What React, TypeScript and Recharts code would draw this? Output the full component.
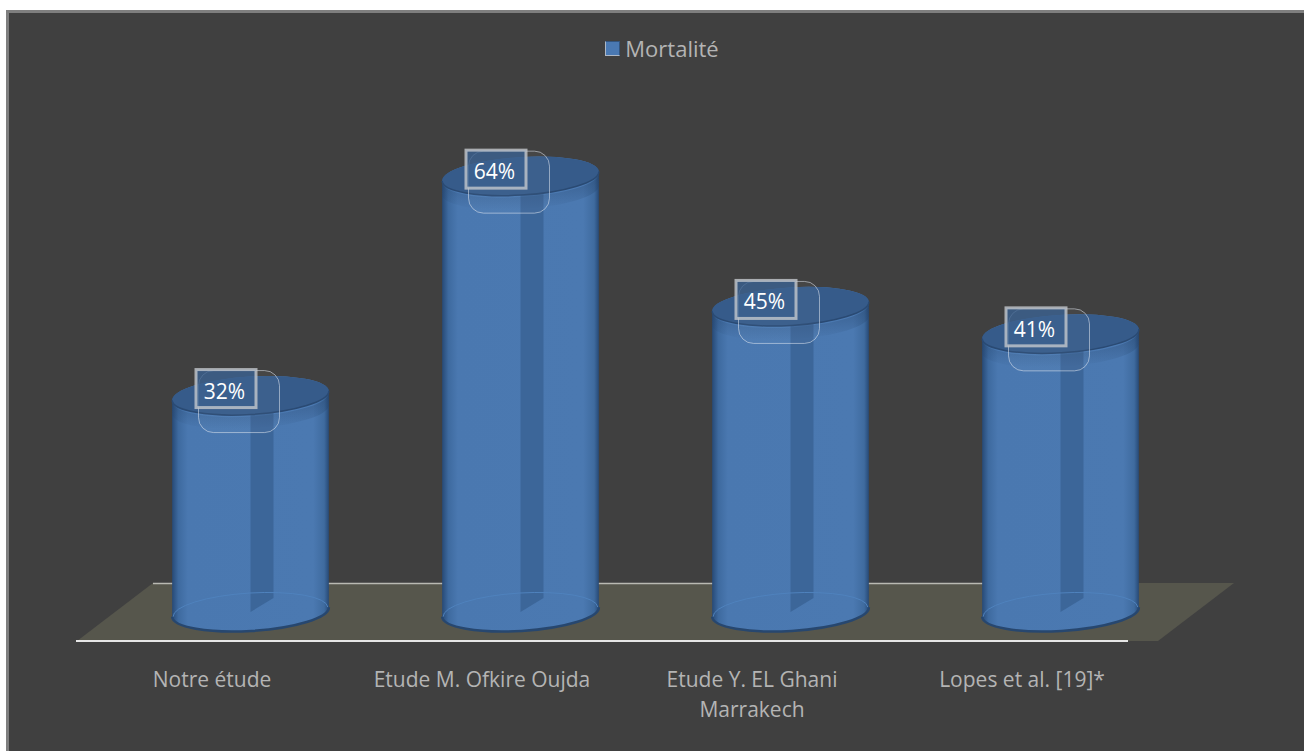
import { BarChart, Bar, XAxis, YAxis, Legend, LabelList, Customized } from "recharts";

const studies = ["Notre étude", "Etude M. Ofkire Oujda", "Etude Y. EL Ghani Marrakech", "Lopes et al. [19]*"];
const tickLines = [["Notre étude"], ["Etude M. Ofkire Oujda"], ["Etude Y. EL Ghani", "Marrakech"], ["Lopes et al. [19]*"]];
const mortality = [32, 64, 45, 41];

const chartData = studies.map((study, i) => ({ study, mortality: mortality[i] }));

const FONT = "'Open Sans', sans-serif";
const TILT = 3.5;
const RY = 19;

// tilted ellipse end points, the cylinder caps lean a little to the right
function capEnds(cx: number, cy: number, rx: number) {
  const t = (TILT * Math.PI) / 180;
  return {
    lx: cx - rx * Math.cos(t),
    ly: cy + rx * Math.sin(t),
    rx: cx + rx * Math.cos(t),
    ry: cy - rx * Math.sin(t),
  };
}

function Cylinder(props: any) {
  const { x, y, width, height } = props;
  const cx = x + width / 2;
  const rx = width / 2;
  const baseY = y + height - 3;
  const top = capEnds(cx, y, rx);
  const base = capEnds(cx, baseY, rx);
  const arc = `${rx} ${RY} ${-TILT} 0 0`;
  const body = `M${top.lx} ${top.ly} L${base.lx} ${base.ly} A${arc} ${base.rx} ${base.ry} L${top.rx} ${top.ry} A${arc} ${top.lx} ${top.ly} Z`;
  const stripeLeft = cx;
  const stripeRight = cx + 23;
  return (
    <g>
      <path d={body} fill="url(#cylBody)" />
      <path
        d={`M${stripeLeft} ${y} L${stripeRight} ${y} L${stripeRight} ${baseY - 14} L${stripeLeft} ${baseY} Z`}
        fill="#3c6699"
      />
      {/* far rim of the base, seen through the column */}
      <path
        d={`M${base.rx - 1} ${base.ry} A${rx - 1} ${RY} ${-TILT} 0 0 ${base.lx + 1} ${base.ly}`}
        fill="none"
        stroke="#4f82bd"
        strokeWidth={1}
      />
      <path
        d={`M${base.lx} ${base.ly} A${arc} ${base.rx} ${base.ry}`}
        fill="none"
        stroke="#27476f"
        strokeWidth={2.5}
      />
      <path
        d={`M${top.lx} ${top.ly + 2} A${arc} ${top.rx} ${top.ry + 2} L${top.rx} ${top.ry + 14} A${rx} ${RY} ${-TILT} 0 1 ${top.lx} ${top.ly + 14} Z`}
        fill="url(#capShade)"
      />
      <ellipse
        cx={cx}
        cy={y}
        rx={rx}
        ry={RY}
        transform={`rotate(${-TILT} ${cx} ${y})`}
        fill="#365b8a"
      />
      <path
        d={`M${top.lx} ${top.ly} A${arc} ${top.rx} ${top.ry}`}
        fill="none"
        stroke="#2a4a73"
        strokeWidth={1.5}
      />
    </g>
  );
}

function ValueTag(props: any) {
  const { x, y, width, value } = props;
  const cx = x + width / 2;
  return (
    <g>
      <rect
        x={cx - 52}
        y={y - 25}
        width={81}
        height={62}
        rx={15}
        fill="rgba(255,255,255,0.03)"
        stroke="rgba(225,232,240,0.55)"
        strokeWidth={1}
      />
      <rect
        x={cx - 54.5}
        y={y - 26}
        width={60}
        height={38}
        fill="rgba(58,96,143,0.82)"
        stroke="rgba(196,200,205,0.8)"
        strokeWidth={3}
      />
      <text x={cx - 26} y={y + 3} textAnchor="middle" fontFamily={FONT} fontSize={21} fill="#ffffff">
        {value}%
      </text>
    </g>
  );
}

function StudyTick(props: any) {
  const { x, payload, index } = props;
  return (
    <text textAnchor="middle" fontFamily={FONT} fontSize={21} fill="#b4b4b4">
      {tickLines[index ?? payload.index].map((line: string, i: number) => (
        <tspan key={line} x={x - 38} y={687 + i * 30}>
          {line}
        </tspan>
      ))}
    </text>
  );
}

// flat grey floor under the columns, with its white front and back edges
function Floor() {
  return (
    <g>
      <polygon points="77,641 153,583 1234,583 1158,641" fill="#56564c" />
      <line x1={153} y1={583.5} x2={1138} y2={583.5} stroke="#b9b9b2" strokeWidth={1.5} />
      <line x1={76} y1={641} x2={1128} y2={641} stroke="#e6e6e6" strokeWidth={2} />
    </g>
  );
}

function LegendRow({ payload }: any) {
  return (
    <div style={{ display: "flex", justifyContent: "center", alignItems: "center", fontFamily: FONT, fontSize: 22, color: "#b4b4b4" }}>
      {(payload ?? []).map((p: any) => (
        <span key={p.value} style={{ display: "flex", alignItems: "center" }}>
          <span
            style={{
              width: 13,
              height: 13,
              marginRight: 5,
              background: "#4a79b3",
              borderLeft: "1px solid #aeb8c6",
              borderBottom: "1px solid #aeb8c6",
              borderTop: "1px solid #33557f",
              borderRight: "1px solid #33557f",
            }}
          />
          {p.value}
        </span>
      ))}
    </div>
  );
}

export default function App() {
  return (
    <div style={{ position: "absolute", left: 0, top: 0, width: 1304, height: 751, background: "#ffffff", overflow: "hidden" }}>
      <div
        style={{
          position: "absolute",
          left: 6,
          top: 10,
          width: 1298,
          height: 741,
          boxSizing: "border-box",
          background: "#404040",
          borderTop: "3px solid #7f7f7f",
          borderLeft: "3px solid #7f7f7f",
        }}
      />
      <div style={{ position: "absolute", left: 0, top: 0 }}>
        <BarChart
          width={1304}
          height={751}
          data={chartData}
          margin={{ top: 105, right: 109, bottom: 96, left: 115 }}
        >
          <defs>
            <linearGradient id="cylBody" x1="0" y1="0" x2="1" y2="0">
              <stop offset="0" stopColor="#274a77" />
              <stop offset="0.04" stopColor="#3e6a9f" />
              <stop offset="0.1" stopColor="#4a78b0" />
              <stop offset="0.9" stopColor="#4b79b1" />
              <stop offset="0.97" stopColor="#3f6b9f" />
              <stop offset="1" stopColor="#274a77" />
            </linearGradient>
            <linearGradient id="capShade" x1="0" y1="0" x2="0" y2="1">
              <stop offset="0" stopColor="#25436a" stopOpacity={0.5} />
              <stop offset="1" stopColor="#25436a" stopOpacity={0} />
            </linearGradient>
          </defs>
          <Customized component={Floor} />
          <XAxis dataKey="study" height={40} axisLine={false} tickLine={false} interval={0} tick={<StudyTick />} />
          <YAxis hide domain={[0, 70]} />
          <Legend
            verticalAlign="top"
            content={<LegendRow />}
            wrapperStyle={{ position: "absolute", top: 33, left: 0, width: 1324, height: 30 }}
          />
          <Bar
            dataKey="mortality"
            name="Mortalité"
            barSize={157}
            fill="#4a79b3"
            shape={<Cylinder />}
            isAnimationActive={false}
          >
            <LabelList dataKey="mortality" content={<ValueTag />} />
          </Bar>
        </BarChart>
      </div>
    </div>
  );
}
